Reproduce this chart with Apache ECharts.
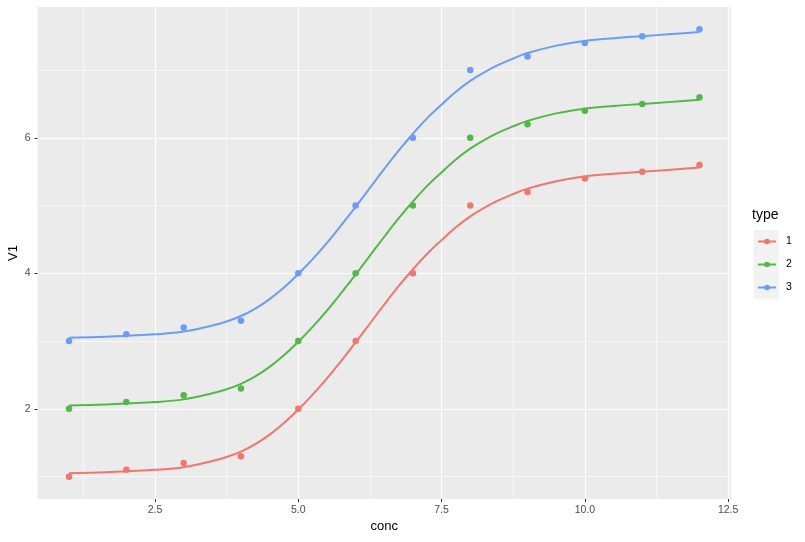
<!DOCTYPE html>
<html>
<head>
<meta charset="utf-8">
<script src="https://cdn.jsdelivr.net/npm/echarts@6/dist/echarts.min.js"></script>
<style>
html,body{margin:0;padding:0;background:#fff;}
#chart{width:805px;height:542px;}
</style>
</head>
<body>
<div id="chart"></div>
<script>
// ---- data ----
const conc = [1, 2, 3, 4, 5, 6, 7, 8, 9, 10, 11, 12];
const type1 = [1.0, 1.1, 1.2, 1.3, 2.0, 3.0, 4.0, 5.0, 5.2, 5.4, 5.5, 5.6];
const type2 = [2.0, 2.1, 2.2, 2.3, 3.0, 4.0, 5.0, 6.0, 6.2, 6.4, 6.5, 6.6];
const type3 = [3.0, 3.1, 3.2, 3.3, 4.0, 5.0, 6.0, 7.0, 7.2, 7.4, 7.5, 7.6];

// fitted curves
const curveX = [1, 1.5, 2, 2.5, 3, 3.5, 3.75, 4, 4.25, 4.5, 4.75, 5, 5.25, 5.5, 5.75, 6, 6.25, 6.5, 6.75, 7, 7.25, 7.5, 7.75, 8, 8.25, 8.5, 8.75, 9, 9.5, 10, 10.5, 11, 11.5, 12];
const curve1 = [1.05, 1.06, 1.08, 1.10, 1.14, 1.23, 1.29, 1.37, 1.48, 1.62, 1.79, 1.99, 2.21, 2.45, 2.71, 2.98, 3.26, 3.54, 3.81, 4.06, 4.29, 4.49, 4.68, 4.84, 4.97, 5.08, 5.17, 5.25, 5.36, 5.43, 5.47, 5.50, 5.53, 5.56];
const curve2 = [2.05, 2.06, 2.08, 2.10, 2.14, 2.23, 2.29, 2.37, 2.48, 2.62, 2.79, 2.99, 3.21, 3.45, 3.71, 3.98, 4.26, 4.54, 4.81, 5.06, 5.29, 5.49, 5.68, 5.84, 5.97, 6.08, 6.17, 6.25, 6.36, 6.43, 6.47, 6.50, 6.53, 6.56];
const curve3 = [3.05, 3.06, 3.08, 3.10, 3.14, 3.23, 3.29, 3.37, 3.48, 3.62, 3.79, 3.99, 4.21, 4.45, 4.71, 4.98, 5.26, 5.54, 5.81, 6.06, 6.29, 6.49, 6.68, 6.84, 6.97, 7.08, 7.17, 7.25, 7.36, 7.43, 7.47, 7.50, 7.53, 7.56];

const typeNames = ['1', '2', '3'];
const xTicks = [2.5, 5.0, 7.5, 10.0, 12.5];
const xMinor = [1.25, 3.75, 6.25, 8.75, 11.25];
const yTicks = [2, 4, 6];
const yMinor = [1, 3, 5, 7];

const colors = ['#F2766B', '#52B848', '#6A9CFB'];
const FONT = '"Liberation Sans", Arial, Helvetica, sans-serif';

const pointSets = [type1, type2, type3];
const curveSets = [curve1, curve2, curve3];

const series = [];
typeNames.forEach((n, k) => {
  series.push({
    name: n, type: 'line', xAxisIndex: 0, yAxisIndex: 0,
    data: curveX.map((x, i) => [x, curveSets[k][i]]),
    smooth: 0.4,
    symbol: 'circle', showSymbol: false, symbolSize: 6,
    lineStyle: { color: colors[k], width: 2 },
    itemStyle: { color: colors[k] },
    z: 3, silent: true, animation: false
  });
});
typeNames.forEach((n, k) => {
  series.push({
    name: n, type: 'scatter', xAxisIndex: 0, yAxisIndex: 0,
    data: conc.map((x, i) => [x, pointSets[k][i]]),
    symbol: 'circle', symbolSize: 6.5,
    itemStyle: { color: colors[k], opacity: 1 },
    z: 2, silent: true, animation: false
  });
});

const chart = echarts.init(document.getElementById('chart'), null, { renderer: 'canvas' });
chart.setOption({
  backgroundColor: '#ffffff',
  animation: false,
  textStyle: { fontFamily: FONT },
  title: {
    text: 'type', left: 752, top: 208, padding: 0,
    textStyle: { fontFamily: FONT, fontSize: 14, fontWeight: 'normal', color: '#000' }
  },
  graphic: [{
    type: 'rect', left: 754, top: 230, z: -1,
    shape: { width: 25, height: 69 },
    style: { fill: '#F2F2F2' }
  }],
  legend: {
    data: typeNames,
    orient: 'vertical', left: 757, top: 236, padding: 0,
    itemWidth: 18, itemHeight: 7, itemGap: 12,
    textStyle: { fontFamily: FONT, fontSize: 10.5, color: '#000', padding: [0, 0, 0, 5] },
    selectedMode: false
  },
  grid: {
    left: 37.5, right: 74, top: 7, bottom: 43,
    show: true, backgroundColor: '#EBEBEB', borderWidth: 0,
    containLabel: false, outerBoundsMode: 'none'
  },
  xAxis: [{
    type: 'value', min: 0.45, max: 12.55,
    name: 'conc', nameLocation: 'middle', nameGap: 21, nameMoveOverlap: false,
    nameTextStyle: { fontFamily: FONT, fontSize: 13, color: '#000' },
    axisLine: { show: false },
    axisTick: { show: true, customValues: xTicks, length: 3, lineStyle: { color: '#333333', width: 1 } },
    axisLabel: { customValues: xTicks, formatter: v => v.toFixed(1), color: '#4D4D4D', fontSize: 10.5, margin: 6, fontFamily: FONT },
    splitLine: { show: true, lineStyle: { color: '#ffffff', width: 1.2 } },
    z: 1
  }, {
    type: 'value', min: 0.45, max: 12.55, position: 'bottom',
    axisLine: { show: false },
    axisTick: { show: false, customValues: xMinor },
    axisLabel: { show: false, customValues: xMinor },
    splitLine: { show: true, lineStyle: { color: '#ffffff', width: 0.6 } },
    z: 0
  }],
  yAxis: [{
    type: 'value', min: 0.67, max: 7.93,
    name: 'V1', nameLocation: 'middle', nameGap: 18, nameMoveOverlap: false,
    nameTextStyle: { fontFamily: FONT, fontSize: 13, color: '#000' },
    axisLine: { show: false },
    axisTick: { show: true, customValues: yTicks, length: 3, lineStyle: { color: '#333333', width: 1 } },
    axisLabel: { customValues: yTicks, formatter: v => String(v), color: '#4D4D4D', fontSize: 10.5, margin: 7, fontFamily: FONT },
    splitLine: { show: true, lineStyle: { color: '#ffffff', width: 1.2 } },
    z: 1
  }, {
    type: 'value', min: 0.67, max: 7.93, position: 'left',
    axisLine: { show: false },
    axisTick: { show: false, customValues: yMinor },
    axisLabel: { show: false, customValues: yMinor },
    splitLine: { show: true, lineStyle: { color: '#ffffff', width: 0.6 } },
    z: 0
  }],
  series: series
});
</script>
</body>
</html>
